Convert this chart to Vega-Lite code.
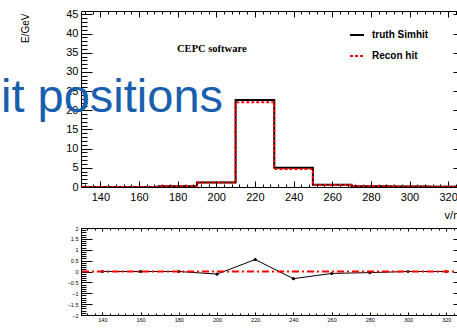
{
  "$schema": "https://vega.github.io/schema/vega-lite/v6.json",
  "background": "white",
  "padding": {"left": 0, "top": 8, "right": 0, "bottom": 0},
  "spacing": 41,
  "bounds": "flush",
  "config": {
    "view": {"stroke": null},
    "axis": {"grid": false, "domainColor": "black", "tickColor": "black", "labelColor": "black", "titleColor": "black", "labelFont": "Liberation Sans", "titleFont": "Liberation Sans", "labelFlush": false, "labelOverlap": false, "titleFontWeight": "normal", "domainWidth": 1, "tickWidth": 1}
  },
  "datasets": {
    "hist": [
      {"edge": 130, "val": 0, "series": "truth Simhit"},
      {"edge": 150, "val": 0, "series": "truth Simhit"},
      {"edge": 170, "val": 0.2, "series": "truth Simhit"},
      {"edge": 190, "val": 1.17, "series": "truth Simhit"},
      {"edge": 210, "val": 22.7, "series": "truth Simhit"},
      {"edge": 230, "val": 5.0, "series": "truth Simhit"},
      {"edge": 250, "val": 0.57, "series": "truth Simhit"},
      {"edge": 270, "val": 0.2, "series": "truth Simhit"},
      {"edge": 290, "val": 0.1, "series": "truth Simhit"},
      {"edge": 310, "val": 0.05, "series": "truth Simhit"},
      {"edge": 330, "val": 0.05, "series": "truth Simhit"},
      {"edge": 130, "val": 0, "series": "Recon hit"},
      {"edge": 150, "val": 0, "series": "Recon hit"},
      {"edge": 170, "val": 0.2, "series": "Recon hit"},
      {"edge": 190, "val": 1.15, "series": "Recon hit"},
      {"edge": 210, "val": 22.1, "series": "Recon hit"},
      {"edge": 230, "val": 4.7, "series": "Recon hit"},
      {"edge": 250, "val": 0.55, "series": "Recon hit"},
      {"edge": 270, "val": 0.2, "series": "Recon hit"},
      {"edge": 290, "val": 0.1, "series": "Recon hit"},
      {"edge": 310, "val": 0.05, "series": "Recon hit"},
      {"edge": 330, "val": 0.05, "series": "Recon hit"}
    ],
    "resid": [
      {"v": 140, "r": 0},
      {"v": 160, "r": 0},
      {"v": 180, "r": 0},
      {"v": 200, "r": -0.12},
      {"v": 220, "r": 0.55},
      {"v": 240, "r": -0.33},
      {"v": 260, "r": -0.09},
      {"v": 280, "r": -0.05},
      {"v": 300, "r": 0},
      {"v": 320, "r": 0}
    ]
  },
  "vconcat": [
    {
      "width": 383,
      "height": 176,
      "data": {"name": "hist"},
      "layer": [
        {
          "transform": [{"filter": "datum.series === 'truth Simhit'"}],
          "mark": {"type": "line", "interpolate": "step-after", "strokeWidth": 2, "clip": true},
          "encoding": {
            "x": {"field": "edge", "type": "quantitative", "scale": {"domain": [130, 328.2], "nice": false, "zero": false},
              "axis": {"orient": "bottom", "values": [140,160,180,200,220,240,260,280,300,320], "ticks": false, "labelPadding": 4, "labelFontSize": 11, "title": "v/mm", "titleFontSize": 11, "titleAnchor": "end", "titleAlign": "right", "titleX": 390, "titleY": 31, "titleBaseline": "alphabetic"}},
            "y": {"field": "val", "type": "quantitative", "scale": {"domain": [0, 45.9], "nice": false, "zero": false},
              "axis": {"orient": "left", "values": [0,5,10,15,20,25,30,35,40,45], "ticks": false, "labelPadding": 3, "labelFontSize": 11, "title": "E/GeV", "titleFontSize": 10, "titleAnchor": "end", "titleAngle": 270, "titleAlign": "right", "titleBaseline": "bottom", "titleX": -51, "titleY": 2}},
            "color": {"field": "series", "type": "nominal", "scale": {"domain": ["truth Simhit", "Recon hit"], "range": ["black", "red"]},
              "legend": {"title": null, "orient": "none", "legendX": 268, "legendY": 16, "symbolType": "stroke", "symbolSize": 196, "symbolStrokeWidth": 2, "labelFont": "Liberation Sans", "labelFontWeight": "bold", "labelFontSize": 10, "labelColor": "black", "rowPadding": 8, "labelOffset": 7, "padding": 0}},
            "strokeDash": {"field": "series", "type": "nominal", "scale": {"domain": ["truth Simhit", "Recon hit"], "range": [[1, 0], [3, 2]]},
              "legend": {"title": null, "orient": "none", "legendX": 268, "legendY": 16, "symbolType": "stroke", "symbolSize": 196, "symbolStrokeWidth": 2, "labelFont": "Liberation Sans", "labelFontWeight": "bold", "labelFontSize": 10, "labelColor": "black", "rowPadding": 8, "labelOffset": 7, "padding": 0}}
          }
        },
        {
          "transform": [{"filter": "datum.series === 'Recon hit'"}],
          "mark": {"type": "line", "interpolate": "step-after", "strokeWidth": 2, "clip": true},
          "encoding": {
            "x": {"field": "edge", "type": "quantitative", "scale": {"domain": [130, 328.2], "nice": false, "zero": false},
              "axis": {"orient": "bottom", "values": [140,160,180,200,220,240,260,280,300,320], "labels": false, "domain": false, "tickSize": -6, "title": null}},
            "y": {"field": "val", "type": "quantitative", "scale": {"domain": [0, 45.9], "nice": false, "zero": false},
              "axis": {"orient": "left", "values": [0,5,10,15,20,25,30,35,40,45], "labels": false, "domain": false, "tickSize": -11, "title": null}},
            "color": {"field": "series", "type": "nominal", "scale": {"domain": ["truth Simhit", "Recon hit"], "range": ["black", "red"]},
              "legend": {"title": null, "orient": "none", "legendX": 268, "legendY": 16, "symbolType": "stroke", "symbolSize": 196, "symbolStrokeWidth": 2, "labelFont": "Liberation Sans", "labelFontWeight": "bold", "labelFontSize": 10, "labelColor": "black", "rowPadding": 8, "labelOffset": 7, "padding": 0}},
            "strokeDash": {"field": "series", "type": "nominal", "scale": {"domain": ["truth Simhit", "Recon hit"], "range": [[1, 0], [3, 2]]},
              "legend": {"title": null, "orient": "none", "legendX": 268, "legendY": 16, "symbolType": "stroke", "symbolSize": 196, "symbolStrokeWidth": 2, "labelFont": "Liberation Sans", "labelFontWeight": "bold", "labelFontSize": 10, "labelColor": "black", "rowPadding": 8, "labelOffset": 7, "padding": 0}}
          }
        },
        {
          "mark": {"type": "point", "opacity": 0},
          "encoding": {
            "x": {"field": "edge", "type": "quantitative", "scale": {"domain": [130, 328.2], "nice": false, "zero": false},
              "axis": {"orient": "bottom", "values": [132,136,140,144,148,152,156,160,164,168,172,176,180,184,188,192,196,200,204,208,212,216,220,224,228,232,236,240,244,248,252,256,260,264,268,272,276,280,284,288,292,296,300,304,308,312,316,320,324,328], "labels": false, "domain": false, "tickSize": -3, "title": null}},
            "y": {"field": "val", "type": "quantitative", "scale": {"domain": [0, 45.9], "nice": false, "zero": false},
              "axis": {"orient": "left", "values": [0,1,2,3,4,5,6,7,8,9,10,11,12,13,14,15,16,17,18,19,20,21,22,23,24,25,26,27,28,29,30,31,32,33,34,35,36,37,38,39,40,41,42,43,44,45], "labels": false, "domain": false, "tickSize": -6, "title": null}}
          }
        },
        {
          "mark": {"type": "point", "opacity": 0},
          "encoding": {
            "x": {"field": "edge", "type": "quantitative", "scale": {"domain": [130, 328.2], "nice": false, "zero": false},
              "axis": {"orient": "top", "values": [140,160,180,200,220,240,260,280,300,320], "labels": false, "domain": true, "tickSize": -6, "title": null}},
            "y": {"field": "val", "type": "quantitative", "scale": {"domain": [0, 45.9], "nice": false, "zero": false},
              "axis": {"orient": "right", "values": [0,5,10,15,20,25,30,35,40,45], "labels": false, "domain": true, "tickSize": -11, "title": null}}
          }
        },
        {
          "mark": {"type": "point", "opacity": 0},
          "encoding": {
            "x": {"field": "edge", "type": "quantitative", "scale": {"domain": [130, 328.2], "nice": false, "zero": false},
              "axis": {"orient": "top", "values": [132,136,140,144,148,152,156,160,164,168,172,176,180,184,188,192,196,200,204,208,212,216,220,224,228,232,236,240,244,248,252,256,260,264,268,272,276,280,284,288,292,296,300,304,308,312,316,320,324,328], "labels": false, "domain": false, "tickSize": -3, "title": null}},
            "y": {"field": "val", "type": "quantitative", "scale": {"domain": [0, 45.9], "nice": false, "zero": false},
              "axis": {"orient": "right", "values": [0,1,2,3,4,5,6,7,8,9,10,11,12,13,14,15,16,17,18,19,20,21,22,23,24,25,26,27,28,29,30,31,32,33,34,35,36,37,38,39,40,41,42,43,44,45], "labels": false, "domain": false, "tickSize": -6, "title": null}}
          }
        },
        {
          "data": {"values": [{"label": "CEPC software", "x": 179.7, "y": 36.07}]},
          "mark": {"type": "text", "font": "Liberation Serif", "fontWeight": "bold", "fontSize": 10.5, "align": "left", "baseline": "middle", "color": "black"},
          "encoding": {
            "x": {"field": "x", "type": "quantitative", "scale": {"domain": [130, 328.2], "nice": false, "zero": false}, "axis": null},
            "y": {"field": "y", "type": "quantitative", "scale": {"domain": [0, 45.9], "nice": false, "zero": false}, "axis": null},
            "text": {"field": "label"}
          }
        },
        {
          "data": {"values": [{"label": "it positions", "x": 88.6, "y": 19.56}]},
          "mark": {"type": "text", "font": "Liberation Sans", "fontSize": 47, "align": "left", "baseline": "alphabetic", "color": "#1a5eae"},
          "encoding": {
            "x": {"field": "x", "type": "quantitative", "scale": {"domain": [130, 328.2], "nice": false, "zero": false}, "axis": null},
            "y": {"field": "y", "type": "quantitative", "scale": {"domain": [0, 45.9], "nice": false, "zero": false}, "axis": null},
            "text": {"field": "label"}
          }
        }
      ],
      "resolve": {"scale": {"x": "independent", "y": "independent"}}
    },
    {
      "width": 383,
      "height": 87,
      "data": {"name": "resid"},
      "layer": [
        {
          "mark": {"type": "line", "color": "black", "strokeWidth": 1, "point": {"filled": true, "size": 10, "color": "black"}},
          "encoding": {
            "x": {"field": "v", "type": "quantitative", "scale": {"domain": [128.8, 329.3], "nice": false, "zero": false},
              "axis": {"orient": "bottom", "values": [140,160,180,200,220,240,260,280,300,320], "ticks": false, "labelPadding": 2, "labelFontSize": 5.5, "title": null}},
            "y": {"field": "r", "type": "quantitative", "scale": {"domain": [-2, 2], "nice": false, "zero": false},
              "axis": {"orient": "left", "values": [-2,-1.5,-1,-0.5,0,0.5,1,1.5,2], "format": "~g", "ticks": false, "labelPadding": 3, "labelFontSize": 5.5, "title": null}}
          }
        },
        {
          "data": {"values": [{"r": 0}]},
          "mark": {"type": "rule", "color": "#ff0000", "strokeWidth": 2, "strokeDash": [7, 3, 2, 3]},
          "encoding": {
            "y": {"field": "r", "type": "quantitative", "scale": {"domain": [-2, 2], "nice": false, "zero": false}, "axis": null}
          }
        },
        {
          "mark": {"type": "point", "opacity": 0},
          "encoding": {
            "x": {"field": "v", "type": "quantitative", "scale": {"domain": [128.8, 329.3], "nice": false, "zero": false},
              "axis": {"orient": "bottom", "values": [140,160,180,200,220,240,260,280,300,320], "labels": false, "domain": false, "tickSize": -3, "title": null}},
            "y": {"field": "r", "type": "quantitative", "scale": {"domain": [-2, 2], "nice": false, "zero": false},
              "axis": {"orient": "left", "values": [-2,-1.5,-1,-0.5,0,0.5,1,1.5,2], "labels": false, "domain": false, "tickSize": -11, "title": null}}
          }
        },
        {
          "mark": {"type": "point", "opacity": 0},
          "encoding": {
            "x": {"field": "v", "type": "quantitative", "scale": {"domain": [128.8, 329.3], "nice": false, "zero": false},
              "axis": {"orient": "bottom", "values": [132,136,140,144,148,152,156,160,164,168,172,176,180,184,188,192,196,200,204,208,212,216,220,224,228,232,236,240,244,248,252,256,260,264,268,272,276,280,284,288,292,296,300,304,308,312,316,320,324,328], "labels": false, "domain": false, "tickSize": -2, "title": null}},
            "y": {"field": "r", "type": "quantitative", "scale": {"domain": [-2, 2], "nice": false, "zero": false},
              "axis": {"orient": "left", "values": [-2,-1.9,-1.8,-1.7,-1.6,-1.5,-1.4,-1.3,-1.2,-1.1,-1,-0.9,-0.8,-0.7,-0.6,-0.5,-0.4,-0.3,-0.2,-0.1,0,0.1,0.2,0.3,0.4,0.5,0.6,0.7,0.8,0.9,1,1.1,1.2,1.3,1.4,1.5,1.6,1.7,1.8,1.9,2], "labels": false, "domain": false, "tickSize": -5, "title": null}}
          }
        },
        {
          "mark": {"type": "point", "opacity": 0},
          "encoding": {
            "x": {"field": "v", "type": "quantitative", "scale": {"domain": [128.8, 329.3], "nice": false, "zero": false},
              "axis": {"orient": "top", "values": [140,160,180,200,220,240,260,280,300,320], "labels": false, "domain": true, "tickSize": -3, "title": null}},
            "y": {"field": "r", "type": "quantitative", "scale": {"domain": [-2, 2], "nice": false, "zero": false},
              "axis": {"orient": "right", "values": [-2,-1.5,-1,-0.5,0,0.5,1,1.5,2], "labels": false, "domain": true, "tickSize": -11, "title": null}}
          }
        },
        {
          "mark": {"type": "point", "opacity": 0},
          "encoding": {
            "x": {"field": "v", "type": "quantitative", "scale": {"domain": [128.8, 329.3], "nice": false, "zero": false},
              "axis": {"orient": "top", "values": [132,136,140,144,148,152,156,160,164,168,172,176,180,184,188,192,196,200,204,208,212,216,220,224,228,232,236,240,244,248,252,256,260,264,268,272,276,280,284,288,292,296,300,304,308,312,316,320,324,328], "labels": false, "domain": false, "tickSize": -2, "title": null}},
            "y": {"field": "r", "type": "quantitative", "scale": {"domain": [-2, 2], "nice": false, "zero": false},
              "axis": {"orient": "right", "values": [-2,-1.9,-1.8,-1.7,-1.6,-1.5,-1.4,-1.3,-1.2,-1.1,-1,-0.9,-0.8,-0.7,-0.6,-0.5,-0.4,-0.3,-0.2,-0.1,0,0.1,0.2,0.3,0.4,0.5,0.6,0.7,0.8,0.9,1,1.1,1.2,1.3,1.4,1.5,1.6,1.7,1.8,1.9,2], "labels": false, "domain": false, "tickSize": -5, "title": null}}
          }
        }
      ],
      "resolve": {"scale": {"x": "independent", "y": "independent"}}
    }
  ]
}
